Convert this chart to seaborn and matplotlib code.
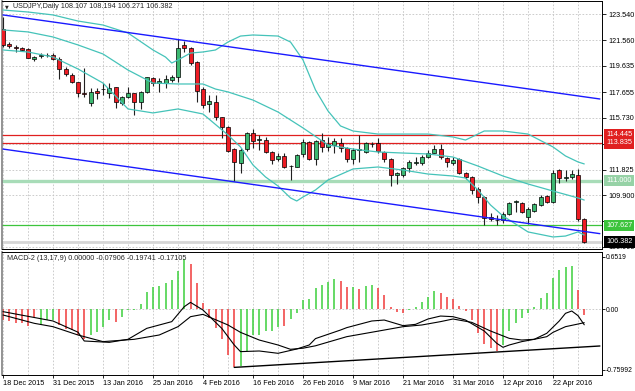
import numpy as np
import matplotlib
matplotlib.use("Agg")
import matplotlib.pyplot as plt
import matplotlib.transforms as mtransforms
import seaborn as sns

# USDJPY daily candles, 18 Dec 2015 .. 29 Apr 2016
opens = [122.39, 121.28, 121.08, 120.96, 120.90, 120.13, 120.40, 120.45, 120.48, 120.15,
         119.40, 118.95, 118.42, 117.61, 116.86, 117.76, 117.86, 117.57, 118.02, 116.82,
         117.27, 117.61, 116.89, 117.69, 118.70, 118.32, 118.37, 118.57, 118.77, 121.21,
         120.96, 119.95, 117.87, 116.76, 116.94, 115.76, 115.05, 113.35, 112.30, 113.35,
         114.56, 114.05, 114.05, 113.17, 112.60, 112.85, 112.07, 112.04, 113.00, 113.92,
         112.60, 114.05, 113.50, 113.65, 113.80, 113.43, 112.60, 113.30, 113.17, 113.73,
         113.80, 113.15, 112.60, 111.42, 111.42, 111.92, 112.34, 112.30, 112.80, 113.10,
         113.38, 112.67, 112.30, 112.60, 111.59, 111.29, 110.34, 109.74, 108.23, 108.03,
         108.00, 108.48, 109.36, 109.33, 108.23, 108.73, 109.16, 109.84, 109.41, 111.79,
         111.22, 111.24, 111.42, 108.107]
highs = [123.30, 121.43, 121.20, 121.03, 120.96, 120.38, 120.58, 120.63, 120.58, 120.28,
         119.57, 119.12, 118.42, 119.45, 117.95, 117.95, 118.37, 118.37, 118.07, 117.37,
         118.07, 117.61, 117.76, 118.82, 118.77, 118.70, 118.95, 118.95, 121.63, 121.53,
         121.08, 120.02, 118.07, 117.44, 117.44, 115.81, 115.11, 113.43, 113.43, 114.68,
         114.86, 114.43, 114.30, 113.25, 113.05, 113.05, 112.17, 113.00, 114.10, 114.00,
         114.05, 114.56, 114.26, 114.18, 114.18, 113.50, 113.43, 114.43, 113.92, 113.92,
         114.18, 113.25, 112.67, 111.67, 112.04, 112.55, 112.80, 112.92, 113.30, 113.68,
         113.75, 112.80, 112.75, 112.67, 111.67, 111.34, 110.54, 109.84, 108.53, 108.38,
         108.65, 109.41, 109.54, 109.41, 108.99, 109.33, 109.91, 109.91, 111.79, 111.85,
         111.79, 111.79, 111.85, 108.194]
lows = [121.05, 120.96, 120.70, 120.78, 120.20, 120.02, 120.20, 120.28, 120.08, 118.62,
        118.87, 118.32, 117.27, 117.31, 116.61, 117.12, 117.44, 117.19, 116.44, 116.69,
        117.19, 115.93, 116.36, 117.61, 118.12, 117.69, 117.95, 118.44, 118.42, 120.66,
        119.70, 116.94, 116.44, 116.18, 115.56, 114.18, 113.17, 110.99, 111.55, 113.25,
        113.43, 113.30, 113.05, 112.25, 112.50, 111.92, 111.04, 111.99, 112.80, 112.55,
        112.17, 113.17, 113.25, 113.05, 113.17, 112.42, 112.25, 112.42, 113.05, 113.50,
        113.05, 112.42, 110.59, 110.74, 111.24, 111.67, 112.17, 112.17, 112.67, 113.05,
        112.60, 112.00, 112.17, 111.49, 111.09, 109.99, 109.33, 107.65, 107.98, 107.65,
        107.78, 108.40, 108.65, 108.58, 107.73, 108.65, 109.08, 109.33, 109.33, 110.79,
        110.99, 111.09, 107.98, 106.271]
closes = [121.21, 121.13, 120.98, 120.85, 120.25, 120.33, 120.43, 120.48, 120.18, 119.40,
          119.02, 118.40, 117.59, 117.52, 117.69, 117.57, 117.89, 117.99, 116.91, 117.27,
          117.61, 116.89, 117.69, 118.77, 118.32, 118.50, 118.62, 118.77, 120.96, 120.96,
          119.83, 117.76, 116.69, 117.01, 115.81, 115.05, 113.25, 112.42, 113.30, 114.56,
          114.00, 114.10, 113.17, 112.55, 112.85, 112.04, 112.12, 112.92, 113.92, 112.60,
          114.00, 113.50, 113.75, 113.98, 113.43, 112.60, 113.30, 113.36, 113.80, 113.75,
          113.25, 112.60, 111.42, 111.55, 111.92, 112.42, 112.34, 112.80, 113.10, 113.38,
          112.80, 112.42, 112.55, 111.59, 111.24, 110.29, 109.74, 108.16, 108.08, 108.00,
          108.50, 109.33, 109.46, 108.65, 108.84, 109.24, 109.78, 109.41, 111.59, 111.17,
          111.24, 111.49, 108.08, 106.382]

# Bollinger bands, read at a few bars
bb_up_idx = [0, 4, 8, 12, 16, 20, 24, 26, 27, 28, 30, 32, 34, 36, 38, 40, 44, 46, 48, 50,
             52, 54, 56, 60, 64, 68, 72, 74, 77, 80, 84, 88, 90, 92, 93]
bb_up = [123.84, 123.69, 123.47, 123.01, 122.71, 122.11, 120.83, 120.30, 119.85, 120.08,
         120.60, 120.68, 120.83, 121.43, 121.88, 121.96, 121.88, 121.43, 120.08, 117.82,
         116.24, 115.11, 114.73, 114.50, 114.50, 114.50, 114.28, 114.05, 114.73, 114.73,
         114.50, 113.53, 112.85, 112.40, 112.25]
bb_mid_idx = [0, 4, 8, 12, 16, 20, 24, 28, 32, 34, 36, 40, 44, 48, 52, 56, 60, 64, 68, 72,
              76, 80, 84, 88, 92, 93]
bb_mid = [122.34, 122.19, 121.81, 121.21, 120.53, 119.32, 118.34, 118.27, 118.27, 117.89,
          117.67, 117.06, 116.16, 114.96, 113.68, 113.37, 113.15, 113.07, 113.00, 112.77,
          112.09, 111.34, 110.74, 110.21, 109.69, 109.53]
bb_low_idx = [0, 4, 8, 12, 16, 20, 24, 28, 32, 36, 38, 40, 42, 44, 46, 47, 48, 50, 52, 56,
              60, 64, 68, 72, 74, 76, 78, 80, 84, 88, 90, 92, 93]
bb_low = [120.83, 120.68, 120.30, 119.40, 118.34, 116.39, 116.09, 116.39, 116.01, 114.43,
          113.53, 112.17, 111.27, 110.59, 109.69, 109.46, 109.76, 110.29, 111.04, 111.87,
          112.02, 111.79, 111.49, 111.34, 111.19, 110.29, 109.16, 108.33, 107.13, 106.75,
          106.82, 107.13, 106.90]

# channel trendlines (bar index, price)
chan_x = [0, 95.5]
chan_top = [123.47, 117.14]
chan_bottom = [113.37, 107.00]

# horizontal levels
red_levels = [114.445, 113.835]
pale_level = 111.000
green_level = 107.627
bid = 106.382

price_ticks = [123.540, 121.560, 119.635, 117.655, 115.730, 113.750, 111.825, 109.900, 107.920, 105.995]
hidden_ticks = [113.750, 107.920]   # covered by the level labels

# MACD-2 (13,17,9)
hist = [-0.14, -0.15, -0.17, -0.17, -0.21, -0.10, -0.19, -0.14, -0.14, -0.20,
        -0.25, -0.26, -0.33, -0.37, -0.33, -0.29, -0.22, -0.14, -0.16, -0.10,
        -0.01, -0.01, 0.06, 0.21, 0.27, 0.29, 0.33, 0.36, 0.47, 0.63,
        0.56, 0.32, 0.07, -0.11, -0.24, -0.38, -0.58, -0.72, -0.71, -0.53,
        -0.32, -0.33, -0.28, -0.28, -0.23, -0.21, -0.13, -0.05, 0.11, 0.13,
        0.26, 0.30, 0.34, 0.38, 0.35, 0.27, 0.27, 0.25, 0.29, 0.30,
        0.26, 0.18, 0.02, -0.04, -0.05, -0.01, 0.03, 0.09, 0.15, 0.23,
        0.20, 0.15, 0.13, 0.04, -0.02, -0.14, -0.30, -0.44, -0.49, -0.53,
        -0.45, -0.28, -0.17, -0.11, -0.05, 0.03, 0.14, 0.20, 0.39, 0.49,
        0.52, 0.54, 0.24, -0.079]
hist_dir = ("rrrrrrgggrrrrrggggr" + "g" * 11 + "r" * 8 + "g" * 7 + "r" + "g" * 8 +
            "rrgrggrrrrrggggg" + "r" * 10 + "g" * 12 + "rr")

macd_idx = [0, 8, 12, 13, 17, 20, 23, 27, 29, 30, 32, 35, 37, 38, 41, 44, 47, 49, 50, 54,
            55, 59, 61, 64, 66, 68, 70, 72, 74, 77, 79, 80, 81, 83, 85, 87, 89, 90, 91, 92, 93]
macd_line = [-0.033, -0.150, -0.290, -0.400, -0.417, -0.379, -0.242, -0.158, 0.029, 0.083,
             -0.013, -0.242, -0.450, -0.533, -0.525, -0.554, -0.500, -0.450, -0.370, -0.263,
             -0.233, -0.150, -0.138, -0.208, -0.192, -0.125, -0.088, -0.096, -0.138, -0.275,
             -0.429, -0.479, -0.450, -0.408, -0.379, -0.304, -0.150, -0.054, -0.025, -0.083,
             -0.19741]
sig_idx = [0, 5, 8, 12, 16, 21, 25, 28, 30, 32, 36, 38, 41, 44, 46, 48, 50, 55, 61, 64,
           67, 70, 72, 75, 78, 81, 83, 85, 87, 88, 90, 92, 93]
sig_line = [-0.075, -0.179, -0.221, -0.325, -0.408, -0.379, -0.325, -0.221, -0.096, -0.067,
            -0.200, -0.292, -0.388, -0.450, -0.504, -0.490, -0.460, -0.346, -0.263, -0.221,
            -0.200, -0.158, -0.125, -0.167, -0.275, -0.367, -0.388, -0.379, -0.346, -0.292,
            -0.221, -0.188, -0.17105]
macd_trend_x = [37, 95.5]
macd_trend_y = [-0.73, -0.4625]

date_ticks = list(range(0, 89, 8))
date_labels = ["18 Dec 2015", "31 Dec 2015", "13 Jan 2016", "25 Jan 2016", "4 Feb 2016",
               "16 Feb 2016", "26 Feb 2016", "9 Mar 2016", "21 Mar 2016", "31 Mar 2016",
               "12 Apr 2016", "22 Apr 2016"]

sns.set_style("white")
plt.rcParams['font.family'] = ['Liberation Sans', 'DejaVu Sans']
FS = 5.2

W, H = 635, 391
fig = plt.figure(figsize=(W / 100, H / 100), dpi=100)


def px_axes(x0, y0, x1, y1):
    return fig.add_axes([x0 / W, 1 - y1 / H, (x1 - x0) / W, (y1 - y0) / H])


ax = px_axes(2, 1, 602, 248.5)
axm = px_axes(2, 251.5, 602, 374.5)
xlim = (-0.16, 95.84)
grid_kw = dict(color="#c4c4c4", lw=0.6, ls=(0, (2, 2)), zorder=0)

# ---- price panel ----
idx = np.arange(len(opens))
o, h, l, c = map(np.array, (opens, highs, lows, closes))
up = c >= o
for gx in range(0, 96, 4):
    ax.axvline(gx, **grid_kw)
for t in price_ticks:
    ax.axhline(t, **grid_kw)

ax.axhline(bid, color="#d6d6d6", lw=2.0, zorder=1)
ax.axhline(pale_level, color="#a8dcb8", lw=2.4, zorder=1)
ax.axhline(green_level, color="#3cc43c", lw=0.9, zorder=1)
for lv in red_levels:
    ax.axhline(lv, color="#e02020", lw=0.9, zorder=1)

ax.vlines(idx, l, h, color="#202020", lw=0.8, zorder=3)
body_h = np.maximum(np.abs(c - o), 0.025)
ax.bar(idx, body_h, bottom=np.minimum(o, c), width=0.64,
       color=np.where(up, "#3cb871", "#ee1c24"), edgecolor="black", linewidth=0.5, zorder=4)

band_col = "#45c3b9"
sns.lineplot(x=bb_up_idx, y=bb_up, ax=ax, color=band_col, lw=0.9, zorder=5)
sns.lineplot(x=bb_mid_idx, y=bb_mid, ax=ax, color=band_col, lw=0.9, zorder=5)
sns.lineplot(x=bb_low_idx, y=bb_low, ax=ax, color=band_col, lw=0.9, zorder=5)
sns.lineplot(x=chan_x, y=chan_top, ax=ax, color="#1a1aff", lw=1.0, zorder=5)
sns.lineplot(x=chan_x, y=chan_bottom, ax=ax, color="#1a1aff", lw=1.0, zorder=5)

ax.set_xlim(*xlim)
ax.set_ylim(105.882, 124.519)
ax.yaxis.tick_right()
ax.set_yticks(price_ticks)
ax.set_yticklabels(["" if t in hidden_ticks else f"{t:.3f}" for t in price_ticks])
ax.tick_params(axis="y", direction="out", length=3, width=0.6, pad=1.5, labelsize=FS, colors="black")
ax.tick_params(axis="x", bottom=False, labelbottom=False)
ax.set_xlabel("")
ax.set_ylabel("")

trans = mtransforms.blended_transform_factory(ax.transAxes, ax.transData)
boxes = [(114.445, "#e02020", "white"), (113.835, "#e02020", "white"),
         (pale_level, "#96d2a6", "white"), (green_level, "#3cc43c", "white"),
         (bid, "black", "white")]
for val, fc, tc in boxes:
    ax.text(1.0 + 4 / 600, val, f"{val:.3f}", transform=trans, fontsize=FS, color=tc,
            va="center", ha="left", clip_on=False, zorder=10,
            bbox=dict(boxstyle="square,pad=0.3", fc=fc, ec="none"))

# ---- MACD panel ----
for gx in range(0, 96, 4):
    axm.axvline(gx, **grid_kw)
axm.axhline(0, **grid_kw)
axm.vlines(idx, 0, hist, colors=["#3ccf3c" if d == "g" else "#f03a3a" for d in hist_dir],
           lw=1.1, zorder=2)
sns.lineplot(x=macd_idx, y=macd_line, ax=axm, color="black", lw=0.8, zorder=4)
sns.lineplot(x=sig_idx, y=sig_line, ax=axm, color="black", lw=0.8, zorder=4)
sns.lineplot(x=macd_trend_x, y=macd_trend_y, ax=axm, color="black", lw=1.0, zorder=4)

axm.set_xlim(*xlim)
axm.set_ylim(-0.819, 0.719)
axm.yaxis.tick_right()
axm.set_yticks([0.6519, 0.0, -0.75992])
axm.set_yticklabels(["0.6519", "0.00", "-0.75992"])
axm.tick_params(axis="y", direction="out", length=2, width=0.6, pad=0.8, labelsize=4.9, colors="black")
axm.set_xticks(date_ticks)
axm.set_xticklabels(date_labels, ha="left")
axm.tick_params(axis="x", direction="out", length=2.5, width=0.6, pad=1.5, labelsize=FS,
                colors="black", bottom=True)
axm.set_xlabel("")
axm.set_ylabel("")

for a in (ax, axm):
    for s in a.spines.values():
        s.set_color("black")
        s.set_linewidth(0.7)
    a.spines["left"].set_color("#808080")
    a.spines["left"].set_linewidth(1.2)

fig.text(5 / W, 1 - 7 / H, "\u25bc", fontsize=3.5, family="DejaVu Sans", va="center", ha="left")
fig.text(13 / W, 1 - 7 / H, "USDJPY,Daily 108.107 108.194 106.271 106.382", fontsize=FS,
         va="center", ha="left")
fig.text(7 / W, 1 - 258 / H, "MACD-2 (13,17,9) 0.00000 -0.07906 -0.19741 -0.17105", fontsize=FS,
         va="center", ha="left")

fig.savefig("out.png", dpi=100)
